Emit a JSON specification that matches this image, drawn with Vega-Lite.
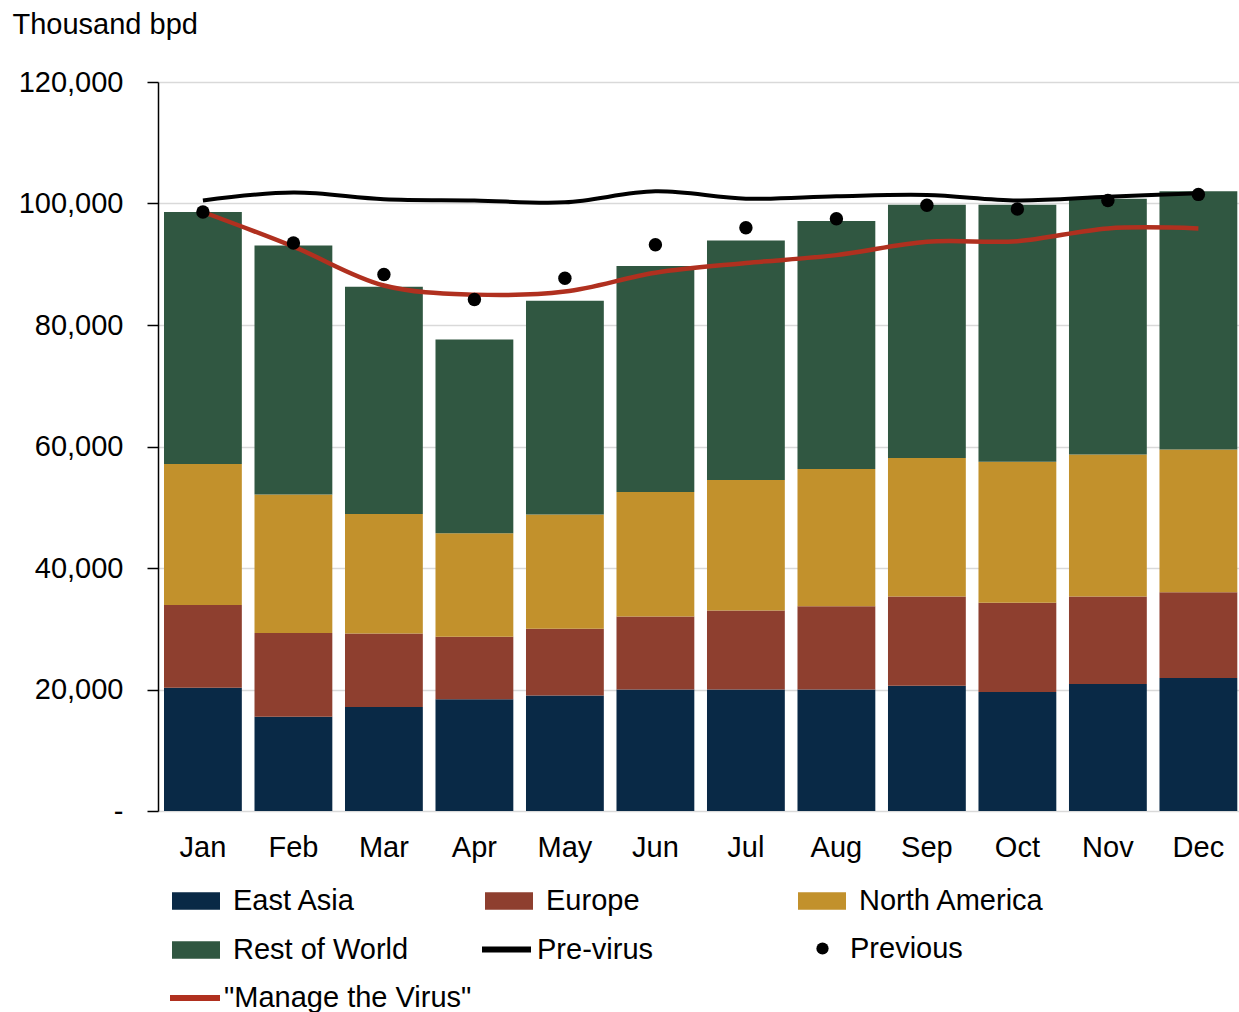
{
  "$schema": "https://vega.github.io/schema/vega-lite/v6.json",
  "width": 1081,
  "height": 729,
  "autosize": {"type": "none"},
  "padding": {"left": 158, "top": 82, "right": 0, "bottom": 201},
  "background": "white",
  "config": {"font": "Liberation Sans", "view": {"stroke": null}},
  "data": {
    "values": [
      {"m": "Jan", "s": "East Asia", "v": 20300}, {"m": "Jan", "s": "Europe", "v": 13600}, {"m": "Jan", "s": "North America", "v": 23200}, {"m": "Jan", "s": "Rest of World", "v": 41500},
      {"m": "Jan", "s": "Pre-virus", "v": 100500}, {"m": "Jan", "s": "Previous", "v": 98600}, {"m": "Jan", "s": "\"Manage the Virus\"", "v": 98600},
      {"m": "Feb", "s": "East Asia", "v": 15500}, {"m": "Feb", "s": "Europe", "v": 13800}, {"m": "Feb", "s": "North America", "v": 22800}, {"m": "Feb", "s": "Rest of World", "v": 41000},
      {"m": "Feb", "s": "Pre-virus", "v": 101800}, {"m": "Feb", "s": "Previous", "v": 93500}, {"m": "Feb", "s": "\"Manage the Virus\"", "v": 92900},
      {"m": "Mar", "s": "East Asia", "v": 17100}, {"m": "Mar", "s": "Europe", "v": 12100}, {"m": "Mar", "s": "North America", "v": 19700}, {"m": "Mar", "s": "Rest of World", "v": 37400},
      {"m": "Mar", "s": "Pre-virus", "v": 100700}, {"m": "Mar", "s": "Previous", "v": 88300}, {"m": "Mar", "s": "\"Manage the Virus\"", "v": 86500},
      {"m": "Apr", "s": "East Asia", "v": 18400}, {"m": "Apr", "s": "Europe", "v": 10300}, {"m": "Apr", "s": "North America", "v": 17000}, {"m": "Apr", "s": "Rest of World", "v": 31900},
      {"m": "Apr", "s": "Pre-virus", "v": 100500}, {"m": "Apr", "s": "Previous", "v": 84200}, {"m": "Apr", "s": "\"Manage the Virus\"", "v": 85000},
      {"m": "May", "s": "East Asia", "v": 19000}, {"m": "May", "s": "Europe", "v": 11000}, {"m": "May", "s": "North America", "v": 18800}, {"m": "May", "s": "Rest of World", "v": 35200},
      {"m": "May", "s": "Pre-virus", "v": 100200}, {"m": "May", "s": "Previous", "v": 87700}, {"m": "May", "s": "\"Manage the Virus\"", "v": 85500},
      {"m": "Jun", "s": "East Asia", "v": 20000}, {"m": "Jun", "s": "Europe", "v": 12000}, {"m": "Jun", "s": "North America", "v": 20500}, {"m": "Jun", "s": "Rest of World", "v": 37200},
      {"m": "Jun", "s": "Pre-virus", "v": 102000}, {"m": "Jun", "s": "Previous", "v": 93200}, {"m": "Jun", "s": "\"Manage the Virus\"", "v": 88600},
      {"m": "Jul", "s": "East Asia", "v": 20000}, {"m": "Jul", "s": "Europe", "v": 13000}, {"m": "Jul", "s": "North America", "v": 21500}, {"m": "Jul", "s": "Rest of World", "v": 39400},
      {"m": "Jul", "s": "Pre-virus", "v": 100800}, {"m": "Jul", "s": "Previous", "v": 96000}, {"m": "Jul", "s": "\"Manage the Virus\"", "v": 90200},
      {"m": "Aug", "s": "East Asia", "v": 20000}, {"m": "Aug", "s": "Europe", "v": 13700}, {"m": "Aug", "s": "North America", "v": 22600}, {"m": "Aug", "s": "Rest of World", "v": 40800},
      {"m": "Aug", "s": "Pre-virus", "v": 101200}, {"m": "Aug", "s": "Previous", "v": 97500}, {"m": "Aug", "s": "\"Manage the Virus\"", "v": 91500},
      {"m": "Sep", "s": "East Asia", "v": 20600}, {"m": "Sep", "s": "Europe", "v": 14700}, {"m": "Sep", "s": "North America", "v": 22800}, {"m": "Sep", "s": "Rest of World", "v": 41700},
      {"m": "Sep", "s": "Pre-virus", "v": 101400}, {"m": "Sep", "s": "Previous", "v": 99700}, {"m": "Sep", "s": "\"Manage the Virus\"", "v": 93700},
      {"m": "Oct", "s": "East Asia", "v": 19600}, {"m": "Oct", "s": "Europe", "v": 14700}, {"m": "Oct", "s": "North America", "v": 23200}, {"m": "Oct", "s": "Rest of World", "v": 42300},
      {"m": "Oct", "s": "Pre-virus", "v": 100500}, {"m": "Oct", "s": "Previous", "v": 99100}, {"m": "Oct", "s": "\"Manage the Virus\"", "v": 93800},
      {"m": "Nov", "s": "East Asia", "v": 20900}, {"m": "Nov", "s": "Europe", "v": 14400}, {"m": "Nov", "s": "North America", "v": 23400}, {"m": "Nov", "s": "Rest of World", "v": 42100},
      {"m": "Nov", "s": "Pre-virus", "v": 101100}, {"m": "Nov", "s": "Previous", "v": 100500}, {"m": "Nov", "s": "\"Manage the Virus\"", "v": 95900},
      {"m": "Dec", "s": "East Asia", "v": 21900}, {"m": "Dec", "s": "Europe", "v": 14100}, {"m": "Dec", "s": "North America", "v": 23500}, {"m": "Dec", "s": "Rest of World", "v": 42500},
      {"m": "Dec", "s": "Pre-virus", "v": 101700}, {"m": "Dec", "s": "Previous", "v": 101500}, {"m": "Dec", "s": "\"Manage the Virus\"", "v": 95900}
    ]
  },
  "encoding": {
    "x": {
      "field": "m",
      "type": "nominal",
      "sort": ["Jan", "Feb", "Mar", "Apr", "May", "Jun", "Jul", "Aug", "Sep", "Oct", "Nov", "Dec"],
      "scale": {"paddingInner": 0.14, "paddingOuter": 0.0425, "align": 0.78},
      "axis": {
        "title": null,
        "domain": false,
        "ticks": false,
        "grid": false,
        "labelAngle": 0,
        "labelFontSize": 29,
        "labelColor": "#000",
        "labelPadding": 22
      }
    },
    "y": {
      "field": "v",
      "type": "quantitative",
      "stack": null,
      "scale": {"domain": [0, 120000], "nice": false},
      "axis": {
        "title": "Thousand bpd",
        "titleAngle": 0,
        "titleAlign": "left",
        "titleBaseline": "middle",
        "titleX": -146,
        "titleY": -58,
        "titleFontSize": 29,
        "titleFontWeight": "normal",
        "titleColor": "#000",
        "values": [0, 20000, 40000, 60000, 80000, 100000, 120000],
        "labelExpr": "datum.value === 0 ? '-\u00a0\u00a0\u00a0' : format(datum.value, ',')",
        "labelFontSize": 29,
        "labelColor": "#000",
        "labelPadding": 24,
        "tickSize": 11,
        "tickColor": "#000",
        "tickWidth": 1.5,
        "domainColor": "#000",
        "domainWidth": 1.5,
        "grid": true,
        "gridColor": "#d9d9d9",
        "gridWidth": 1.5
      }
    }
  },
  "resolve": {"scale": {"color": "independent"}, "legend": {"color": "independent"}},
  "layer": [
    {
      "transform": [{"filter": {"field": "s", "oneOf": ["East Asia", "Europe", "North America", "Rest of World"]}}],
      "mark": {"type": "bar"},
      "encoding": {
        "y": {
          "field": "v",
          "type": "quantitative",
          "stack": "zero",
          "scale": {"domain": [0, 120000], "nice": false},
          "axis": {
            "title": "Thousand bpd",
            "titleAngle": 0,
            "titleAlign": "left",
            "titleBaseline": "middle",
            "titleX": -146,
            "titleY": -58,
            "titleFontSize": 29,
            "titleFontWeight": "normal",
            "titleColor": "#000",
            "values": [0, 20000, 40000, 60000, 80000, 100000, 120000],
            "labelExpr": "datum.value === 0 ? '-\u00a0\u00a0\u00a0' : format(datum.value, ',')",
            "labelFontSize": 29,
            "labelColor": "#000",
            "labelPadding": 24,
            "tickSize": 11,
            "tickColor": "#000",
            "tickWidth": 1.5,
            "domainColor": "#000",
            "domainWidth": 1.5,
            "grid": true,
            "gridColor": "#d9d9d9",
            "gridWidth": 1.5
          }
        },
        "order": {"field": "s", "sort": "ascending"},
        "color": {
          "field": "s",
          "type": "nominal",
          "scale": {
            "domain": ["East Asia", "Europe", "North America", "Rest of World"],
            "range": ["#092946", "#8e3f2f", "#c2912c", "#305741"]
          },
          "legend": {
            "title": null,
            "orient": "none",
            "direction": "horizontal",
            "legendX": 14,
            "legendY": 795,
            "columns": 3,
            "gridAlign": "all",
            "padding": 0,
            "rowPadding": 10,
            "columnPadding": 66,
            "symbolType": "M-1,-0.36L1,-0.36L1,0.36L-1,0.36Z",
            "symbolSize": 2304,
            "symbolStrokeWidth": 0,
            "symbolOpacity": 1,
            "labelFontSize": 29,
            "labelColor": "#000",
            "labelOffset": 13,
            "labelLimit": 500
          }
        }
      }
    },
    {
      "transform": [{"filter": {"field": "s", "equal": "\"Manage the Virus\""}}],
      "mark": {"type": "line", "strokeWidth": 4.5, "interpolate": "catmull-rom"},
      "encoding": {
        "color": {
          "field": "s",
          "type": "nominal",
          "scale": {"domain": ["\"Manage the Virus\""], "range": ["#b0301f"]},
          "legend": {
            "title": null,
            "orient": "none",
            "legendX": 9,
            "legendY": 888,
            "padding": 0,
            "symbolType": "stroke",
            "symbolSize": 2500,
            "symbolStrokeWidth": 6,
            "labelFontSize": 29,
            "labelColor": "#000",
            "labelOffset": 1,
            "labelLimit": 500
          }
        }
      }
    },
    {
      "transform": [{"filter": {"field": "s", "equal": "Pre-virus"}}],
      "mark": {"type": "line", "strokeWidth": 4, "interpolate": "catmull-rom"},
      "encoding": {
        "color": {
          "field": "s",
          "type": "nominal",
          "scale": {"domain": ["Pre-virus"], "range": ["#000000"]},
          "legend": {
            "title": null,
            "orient": "none",
            "legendX": 321,
            "legendY": 840,
            "padding": 0,
            "symbolType": "stroke",
            "symbolSize": 2401,
            "symbolStrokeWidth": 6,
            "labelFontSize": 29,
            "labelColor": "#000",
            "labelOffset": 3,
            "labelLimit": 500
          }
        }
      }
    },
    {
      "transform": [{"filter": {"field": "s", "equal": "Previous"}}],
      "mark": {"type": "point", "filled": true, "opacity": 1, "size": 180, "shape": "circle"},
      "encoding": {
        "color": {
          "field": "s",
          "type": "nominal",
          "scale": {"domain": ["Previous"], "range": ["#000000"]},
          "legend": {
            "title": null,
            "orient": "none",
            "legendX": 650,
            "legendY": 852,
            "padding": 0,
            "symbolType": "circle",
            "symbolSize": 150,
            "symbolStrokeWidth": 0,
            "symbolOpacity": 1,
            "labelFontSize": 29,
            "labelColor": "#000",
            "labelOffset": 13,
            "labelLimit": 500
          }
        }
      }
    }
  ]
}
